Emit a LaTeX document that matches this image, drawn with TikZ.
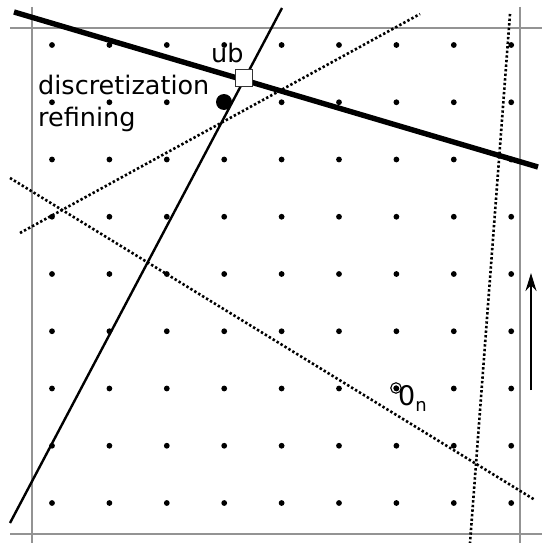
\documentclass[tikz,border=0pt]{standalone}
\usepackage{fontspec}
\setmainfont{DejaVu Sans}
\usetikzlibrary{arrows.meta,positioning}

\begin{document}
\begin{tikzpicture}[
        x=1pt, y=-1pt,
        frameline/.style={gray!85, line width=2.8pt},
        cutline/.style={black, line width=5.4pt},
        thinline/.style={black, line width=2.4pt},
        dotline/.style={black, line width=2.6pt, dash pattern=on 2.4pt off 2.2pt},
        griddot/.style={circle, fill=black, inner sep=0pt, minimum size=5.8pt},
        label/.style={font=\fontsize{25.5}{32}\selectfont, inner sep=0pt}
      ]
        \useasboundingbox (0,0) rectangle (542,543);
        % Frame
        \draw[frameline] (10,28) -- (542,28);
        \draw[frameline] (10,534) -- (542,534);
        \draw[frameline] (32,7) -- (32,543);
        \draw[frameline] (520,7) -- (520,543);
        % Grid points (9 x 9)
        \foreach \i in {0,...,8}
          \foreach \j in {0,...,8}
            \node[griddot] (g\i\j) at (52+57.4*\i, 45+57.25*\j) {};
        % Line end points
        \coordinate (ubA) at (14,12);
        \coordinate (ubB) at (538,167);
        \coordinate (sA) at (282,8);
        \coordinate (sB) at (10,523);
        \coordinate (dA) at (20,233);
        \coordinate (dB) at (420,14);
        \coordinate (dC) at (10,178);
        \coordinate (dD) at (535,500);
        \coordinate (dE) at (510,14);
        \coordinate (dF) at (470,543);
        % Dotted lines
        \draw[dotline] (dA) -- (dB);
        \draw[dotline] (dC) -- (dD);
        \draw[dotline] (dE) -- (dF);
        % Solid lines
        \draw[thinline] (sA) -- (sB);
        \draw[cutline] (ubA) -- (ubB);
        % Upper bound and refining point
        \node[draw=black!80, fill=white, line width=1.3pt, minimum size=17pt, inner sep=0pt] (ub) at (244,78) {};
        \node[circle, fill=black, minimum size=16pt, inner sep=0pt] (ref) at (224,102) {};
        \node[label, anchor=base west] (ubl) at (211,63) {ub};
        \node[label, anchor=base west, align=left] (refl) at (38,126) {discretization\\refining};
        % Origin marker
        \node[circle, draw=black, line width=1.1pt, minimum size=10.5pt, inner sep=0pt] (org) at (396,388) {};
        \fill[black] (org.center) circle (2.6);
        \node[label, anchor=base west] (orgl) at (398,405) {\fontsize{27}{32}\selectfont 0\raisebox{-0.45ex}{\fontsize{18}{18}\selectfont n}};
        % Direction arrow
        \coordinate (arA) at (531,390);
        \coordinate (arB) at (531,273);
        \draw[black, line width=2.4pt, -{Stealth[length=18pt, width=11pt]}] (arA) -- (arB);
      \end{tikzpicture}
\end{document}
